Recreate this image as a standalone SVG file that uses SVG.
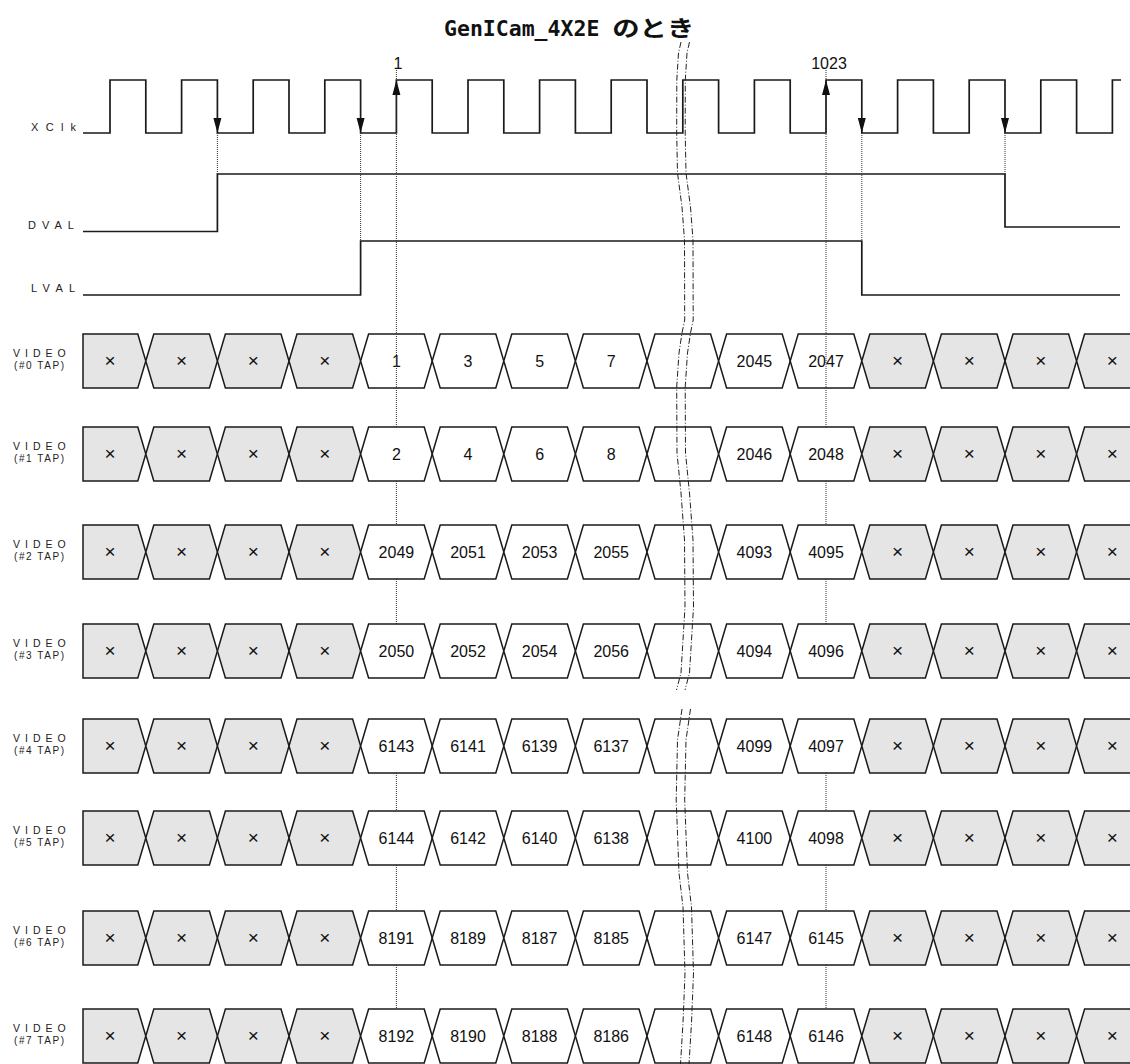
<svg xmlns="http://www.w3.org/2000/svg" xmlns:xlink="http://www.w3.org/1999/xlink" width="1130" height="1064" viewBox="0 0 1130 1064">
<style>
.sig{fill:none;stroke:#1a1a1a;stroke-width:1.7}
.cs{stroke:#1a1a1a;stroke-width:1.5}
.g{fill:#e5e5e5}
.w{fill:#fff}
.num{font-family:"Liberation Sans",Arial,sans-serif;font-size:16px;text-anchor:middle;fill:#111}
.x{font-size:19px}
.lbl{font-family:"Liberation Sans",Arial,sans-serif;font-size:11px;fill:#222}
.vl{font-family:"Liberation Sans",Arial,sans-serif;font-size:10.5px;letter-spacing:5px;fill:#222}
.tap{font-family:"Liberation Sans",Arial,sans-serif;font-size:10px;fill:#222}
.dot{stroke:#333;stroke-width:1;stroke-dasharray:1 1;fill:none}
.brk{stroke:#222;stroke-width:1;fill:none;stroke-dasharray:6 2 1 2}
.ah{fill:#111}
.title{font-family:"DejaVu Sans Mono","Noto Sans CJK JP",monospace;font-weight:bold;font-size:21.5px;fill:#111}
.kana{font-family:"Noto Sans CJK JP",sans-serif;font-weight:bold;font-size:22px}
</style>
<defs>
<polygon id="c" class="cs" points="0,27 8,0 63.6,0 71.6,27 63.6,54 8,54"/>
<polygon id="cf" class="cs" points="0,0 54.8,0 62.8,27 54.8,54 0,54"/>
<polygon id="cl" class="cs" points="0,27 8,0 80,0 80,54 8,54"/>
<path id="brkpath" d="M681,42 L678.5,53 L676.8,80 L676.7,133 L677.5,173 L682,207 L684.5,240 L684.7,320 L682,333 L679,353 L676.7,387 L677,453 L681,493 L684.5,540 L685,607 L681,673 L676.5,690 M682,709 L677.5,740 L676.2,800 L679,873 L683,907 L685,973 L683,1023 L680.5,1064"/>
</defs>

<text class="title" x="444" y="36">GenICam_4X2E <tspan class="kana" textLength="82" lengthAdjust="spacingAndGlyphs">のとき</tspan></text>

<g id="xclk">
<text class="lbl" x="31" y="131" letter-spacing="7.3">XClk</text>
<path class="sig" d="M83 133 H110 V80 H145.8 V133 H181.6 V80 H217.4 V133 H253.2 V80 H289 V133 H324.8 V80 H360.6 V133 H396.4 V80 H432.2 V133 H468 V80 H503.8 V133 H539.6 V80 H575.4 V133 H611.2 V80 H647 V133 H682.8 V80 H718.6 V133 H754.4 V80 H790.2 V133 H826 V80 H861.8 V133 H897.6 V80 H933.4 V133 H969.2 V80 H1005 V133 H1040.8 V80 H1076.6 V133 H1112.4 V80 H1121"/>
</g>
<g id="dval">
<text class="lbl" x="28" y="229" letter-spacing="6">DVAL</text>
<path class="sig" d="M83 231.5 H217.4 V174 H1005 V227 H1120"/>
</g>
<g id="lval">
<text class="lbl" x="31" y="292" letter-spacing="6.3">LVAL</text>
<path class="sig" d="M83 295 H360.6 V241 H861.8 V295 H1120"/>
</g>

<g id="video0" transform="translate(0,334)">
<text class="vl" x="13" y="23">VIDEO</text><text class="tap" x="14" y="34.5" textLength="50" lengthAdjust="spacing">(#0 TAP)</text>
<use xlink:href="#cf" x="83" class="g"/><use xlink:href="#c" x="145.8" class="g"/><use xlink:href="#c" x="217.4" class="g"/><use xlink:href="#c" x="289" class="g"/>
<use xlink:href="#c" x="360.6" class="w"/><use xlink:href="#c" x="432.2" class="w"/><use xlink:href="#c" x="503.8" class="w"/><use xlink:href="#c" x="575.4" class="w"/><use xlink:href="#c" x="647" class="w"/><use xlink:href="#c" x="718.6" class="w"/><use xlink:href="#c" x="790.2" class="w"/>
<use xlink:href="#c" x="861.8" class="g"/><use xlink:href="#c" x="933.4" class="g"/><use xlink:href="#c" x="1005" class="g"/><use xlink:href="#cl" x="1076.6" class="g"/>
<text class="num x" x="110" y="33">×</text><text class="num x" x="181.6" y="33">×</text><text class="num x" x="253.2" y="33">×</text><text class="num x" x="324.8" y="33">×</text>
<text class="num" x="396.4" y="33">1</text><text class="num" x="468" y="33">3</text><text class="num" x="539.6" y="33">5</text><text class="num" x="611.2" y="33">7</text><text class="num" x="754.4" y="33">2045</text><text class="num" x="826" y="33">2047</text>
<text class="num x" x="897.6" y="33">×</text><text class="num x" x="969.2" y="33">×</text><text class="num x" x="1040.8" y="33">×</text><text class="num x" x="1112.4" y="33">×</text>
</g>

<g id="connectors">
<path class="dot" d="M217.4 133 V174 M360.6 133 V241 M861.8 133 V241 M1005 133 V174"/>
<path class="dot" d="M396.4 70 V427 M396.4 481 V525 M396.4 579 V624 M396.4 773 V811 M396.4 865 V911 M396.4 965 V1009"/>
<path class="dot" d="M826 70 V427 M826 481 V525 M826 579 V624 M826 773 V811 M826 865 V911 M826 965 V1009"/>
<polygon class="ah" points="213.4,118 221.4,118 217.4,133"/>
<polygon class="ah" points="356.6,118 364.6,118 360.6,133"/>
<polygon class="ah" points="857.8,118 865.8,118 861.8,133"/>
<polygon class="ah" points="1001,118 1009,118 1005,133"/>
<polygon class="ah" points="392.4,95 400.4,95 396.4,80"/>
<polygon class="ah" points="822,95 830,95 826,80"/>
<text class="num" x="398" y="69">1</text>
<text class="num" x="829" y="69">1023</text>
</g>

<g id="video1" transform="translate(0,427)">
<text class="vl" x="13" y="23">VIDEO</text><text class="tap" x="14" y="34.5" textLength="50" lengthAdjust="spacing">(#1 TAP)</text>
<use xlink:href="#cf" x="83" class="g"/><use xlink:href="#c" x="145.8" class="g"/><use xlink:href="#c" x="217.4" class="g"/><use xlink:href="#c" x="289" class="g"/>
<use xlink:href="#c" x="360.6" class="w"/><use xlink:href="#c" x="432.2" class="w"/><use xlink:href="#c" x="503.8" class="w"/><use xlink:href="#c" x="575.4" class="w"/><use xlink:href="#c" x="647" class="w"/><use xlink:href="#c" x="718.6" class="w"/><use xlink:href="#c" x="790.2" class="w"/>
<use xlink:href="#c" x="861.8" class="g"/><use xlink:href="#c" x="933.4" class="g"/><use xlink:href="#c" x="1005" class="g"/><use xlink:href="#cl" x="1076.6" class="g"/>
<text class="num x" x="110" y="33">×</text><text class="num x" x="181.6" y="33">×</text><text class="num x" x="253.2" y="33">×</text><text class="num x" x="324.8" y="33">×</text>
<text class="num" x="396.4" y="33">2</text><text class="num" x="468" y="33">4</text><text class="num" x="539.6" y="33">6</text><text class="num" x="611.2" y="33">8</text><text class="num" x="754.4" y="33">2046</text><text class="num" x="826" y="33">2048</text>
<text class="num x" x="897.6" y="33">×</text><text class="num x" x="969.2" y="33">×</text><text class="num x" x="1040.8" y="33">×</text><text class="num x" x="1112.4" y="33">×</text>
</g>

<g id="video2" transform="translate(0,525)">
<text class="vl" x="13" y="23">VIDEO</text><text class="tap" x="14" y="34.5" textLength="50" lengthAdjust="spacing">(#2 TAP)</text>
<use xlink:href="#cf" x="83" class="g"/><use xlink:href="#c" x="145.8" class="g"/><use xlink:href="#c" x="217.4" class="g"/><use xlink:href="#c" x="289" class="g"/>
<use xlink:href="#c" x="360.6" class="w"/><use xlink:href="#c" x="432.2" class="w"/><use xlink:href="#c" x="503.8" class="w"/><use xlink:href="#c" x="575.4" class="w"/><use xlink:href="#c" x="647" class="w"/><use xlink:href="#c" x="718.6" class="w"/><use xlink:href="#c" x="790.2" class="w"/>
<use xlink:href="#c" x="861.8" class="g"/><use xlink:href="#c" x="933.4" class="g"/><use xlink:href="#c" x="1005" class="g"/><use xlink:href="#cl" x="1076.6" class="g"/>
<text class="num x" x="110" y="33">×</text><text class="num x" x="181.6" y="33">×</text><text class="num x" x="253.2" y="33">×</text><text class="num x" x="324.8" y="33">×</text>
<text class="num" x="396.4" y="33">2049</text><text class="num" x="468" y="33">2051</text><text class="num" x="539.6" y="33">2053</text><text class="num" x="611.2" y="33">2055</text><text class="num" x="754.4" y="33">4093</text><text class="num" x="826" y="33">4095</text>
<text class="num x" x="897.6" y="33">×</text><text class="num x" x="969.2" y="33">×</text><text class="num x" x="1040.8" y="33">×</text><text class="num x" x="1112.4" y="33">×</text>
</g>

<g id="video3" transform="translate(0,624)">
<text class="vl" x="13" y="23">VIDEO</text><text class="tap" x="14" y="34.5" textLength="50" lengthAdjust="spacing">(#3 TAP)</text>
<use xlink:href="#cf" x="83" class="g"/><use xlink:href="#c" x="145.8" class="g"/><use xlink:href="#c" x="217.4" class="g"/><use xlink:href="#c" x="289" class="g"/>
<use xlink:href="#c" x="360.6" class="w"/><use xlink:href="#c" x="432.2" class="w"/><use xlink:href="#c" x="503.8" class="w"/><use xlink:href="#c" x="575.4" class="w"/><use xlink:href="#c" x="647" class="w"/><use xlink:href="#c" x="718.6" class="w"/><use xlink:href="#c" x="790.2" class="w"/>
<use xlink:href="#c" x="861.8" class="g"/><use xlink:href="#c" x="933.4" class="g"/><use xlink:href="#c" x="1005" class="g"/><use xlink:href="#cl" x="1076.6" class="g"/>
<text class="num x" x="110" y="33">×</text><text class="num x" x="181.6" y="33">×</text><text class="num x" x="253.2" y="33">×</text><text class="num x" x="324.8" y="33">×</text>
<text class="num" x="396.4" y="33">2050</text><text class="num" x="468" y="33">2052</text><text class="num" x="539.6" y="33">2054</text><text class="num" x="611.2" y="33">2056</text><text class="num" x="754.4" y="33">4094</text><text class="num" x="826" y="33">4096</text>
<text class="num x" x="897.6" y="33">×</text><text class="num x" x="969.2" y="33">×</text><text class="num x" x="1040.8" y="33">×</text><text class="num x" x="1112.4" y="33">×</text>
</g>

<g id="video4" transform="translate(0,719)">
<text class="vl" x="13" y="23">VIDEO</text><text class="tap" x="14" y="34.5" textLength="50" lengthAdjust="spacing">(#4 TAP)</text>
<use xlink:href="#cf" x="83" class="g"/><use xlink:href="#c" x="145.8" class="g"/><use xlink:href="#c" x="217.4" class="g"/><use xlink:href="#c" x="289" class="g"/>
<use xlink:href="#c" x="360.6" class="w"/><use xlink:href="#c" x="432.2" class="w"/><use xlink:href="#c" x="503.8" class="w"/><use xlink:href="#c" x="575.4" class="w"/><use xlink:href="#c" x="647" class="w"/><use xlink:href="#c" x="718.6" class="w"/><use xlink:href="#c" x="790.2" class="w"/>
<use xlink:href="#c" x="861.8" class="g"/><use xlink:href="#c" x="933.4" class="g"/><use xlink:href="#c" x="1005" class="g"/><use xlink:href="#cl" x="1076.6" class="g"/>
<text class="num x" x="110" y="33">×</text><text class="num x" x="181.6" y="33">×</text><text class="num x" x="253.2" y="33">×</text><text class="num x" x="324.8" y="33">×</text>
<text class="num" x="396.4" y="33">6143</text><text class="num" x="468" y="33">6141</text><text class="num" x="539.6" y="33">6139</text><text class="num" x="611.2" y="33">6137</text><text class="num" x="754.4" y="33">4099</text><text class="num" x="826" y="33">4097</text>
<text class="num x" x="897.6" y="33">×</text><text class="num x" x="969.2" y="33">×</text><text class="num x" x="1040.8" y="33">×</text><text class="num x" x="1112.4" y="33">×</text>
</g>

<g id="video5" transform="translate(0,811)">
<text class="vl" x="13" y="23">VIDEO</text><text class="tap" x="14" y="34.5" textLength="50" lengthAdjust="spacing">(#5 TAP)</text>
<use xlink:href="#cf" x="83" class="g"/><use xlink:href="#c" x="145.8" class="g"/><use xlink:href="#c" x="217.4" class="g"/><use xlink:href="#c" x="289" class="g"/>
<use xlink:href="#c" x="360.6" class="w"/><use xlink:href="#c" x="432.2" class="w"/><use xlink:href="#c" x="503.8" class="w"/><use xlink:href="#c" x="575.4" class="w"/><use xlink:href="#c" x="647" class="w"/><use xlink:href="#c" x="718.6" class="w"/><use xlink:href="#c" x="790.2" class="w"/>
<use xlink:href="#c" x="861.8" class="g"/><use xlink:href="#c" x="933.4" class="g"/><use xlink:href="#c" x="1005" class="g"/><use xlink:href="#cl" x="1076.6" class="g"/>
<text class="num x" x="110" y="33">×</text><text class="num x" x="181.6" y="33">×</text><text class="num x" x="253.2" y="33">×</text><text class="num x" x="324.8" y="33">×</text>
<text class="num" x="396.4" y="33">6144</text><text class="num" x="468" y="33">6142</text><text class="num" x="539.6" y="33">6140</text><text class="num" x="611.2" y="33">6138</text><text class="num" x="754.4" y="33">4100</text><text class="num" x="826" y="33">4098</text>
<text class="num x" x="897.6" y="33">×</text><text class="num x" x="969.2" y="33">×</text><text class="num x" x="1040.8" y="33">×</text><text class="num x" x="1112.4" y="33">×</text>
</g>

<g id="video6" transform="translate(0,911)">
<text class="vl" x="13" y="23">VIDEO</text><text class="tap" x="14" y="34.5" textLength="50" lengthAdjust="spacing">(#6 TAP)</text>
<use xlink:href="#cf" x="83" class="g"/><use xlink:href="#c" x="145.8" class="g"/><use xlink:href="#c" x="217.4" class="g"/><use xlink:href="#c" x="289" class="g"/>
<use xlink:href="#c" x="360.6" class="w"/><use xlink:href="#c" x="432.2" class="w"/><use xlink:href="#c" x="503.8" class="w"/><use xlink:href="#c" x="575.4" class="w"/><use xlink:href="#c" x="647" class="w"/><use xlink:href="#c" x="718.6" class="w"/><use xlink:href="#c" x="790.2" class="w"/>
<use xlink:href="#c" x="861.8" class="g"/><use xlink:href="#c" x="933.4" class="g"/><use xlink:href="#c" x="1005" class="g"/><use xlink:href="#cl" x="1076.6" class="g"/>
<text class="num x" x="110" y="33">×</text><text class="num x" x="181.6" y="33">×</text><text class="num x" x="253.2" y="33">×</text><text class="num x" x="324.8" y="33">×</text>
<text class="num" x="396.4" y="33">8191</text><text class="num" x="468" y="33">8189</text><text class="num" x="539.6" y="33">8187</text><text class="num" x="611.2" y="33">8185</text><text class="num" x="754.4" y="33">6147</text><text class="num" x="826" y="33">6145</text>
<text class="num x" x="897.6" y="33">×</text><text class="num x" x="969.2" y="33">×</text><text class="num x" x="1040.8" y="33">×</text><text class="num x" x="1112.4" y="33">×</text>
</g>

<g id="video7" transform="translate(0,1009)">
<text class="vl" x="13" y="23">VIDEO</text><text class="tap" x="14" y="34.5" textLength="50" lengthAdjust="spacing">(#7 TAP)</text>
<use xlink:href="#cf" x="83" class="g"/><use xlink:href="#c" x="145.8" class="g"/><use xlink:href="#c" x="217.4" class="g"/><use xlink:href="#c" x="289" class="g"/>
<use xlink:href="#c" x="360.6" class="w"/><use xlink:href="#c" x="432.2" class="w"/><use xlink:href="#c" x="503.8" class="w"/><use xlink:href="#c" x="575.4" class="w"/><use xlink:href="#c" x="647" class="w"/><use xlink:href="#c" x="718.6" class="w"/><use xlink:href="#c" x="790.2" class="w"/>
<use xlink:href="#c" x="861.8" class="g"/><use xlink:href="#c" x="933.4" class="g"/><use xlink:href="#c" x="1005" class="g"/><use xlink:href="#cl" x="1076.6" class="g"/>
<text class="num x" x="110" y="33">×</text><text class="num x" x="181.6" y="33">×</text><text class="num x" x="253.2" y="33">×</text><text class="num x" x="324.8" y="33">×</text>
<text class="num" x="396.4" y="33">8192</text><text class="num" x="468" y="33">8190</text><text class="num" x="539.6" y="33">8188</text><text class="num" x="611.2" y="33">8186</text><text class="num" x="754.4" y="33">6148</text><text class="num" x="826" y="33">6146</text>
<text class="num x" x="897.6" y="33">×</text><text class="num x" x="969.2" y="33">×</text><text class="num x" x="1040.8" y="33">×</text><text class="num x" x="1112.4" y="33">×</text>
</g>

<g id="break-lines">
<use xlink:href="#brkpath" class="brk"/>
<use xlink:href="#brkpath" class="brk" x="8.5"/>
</g>
</svg>
